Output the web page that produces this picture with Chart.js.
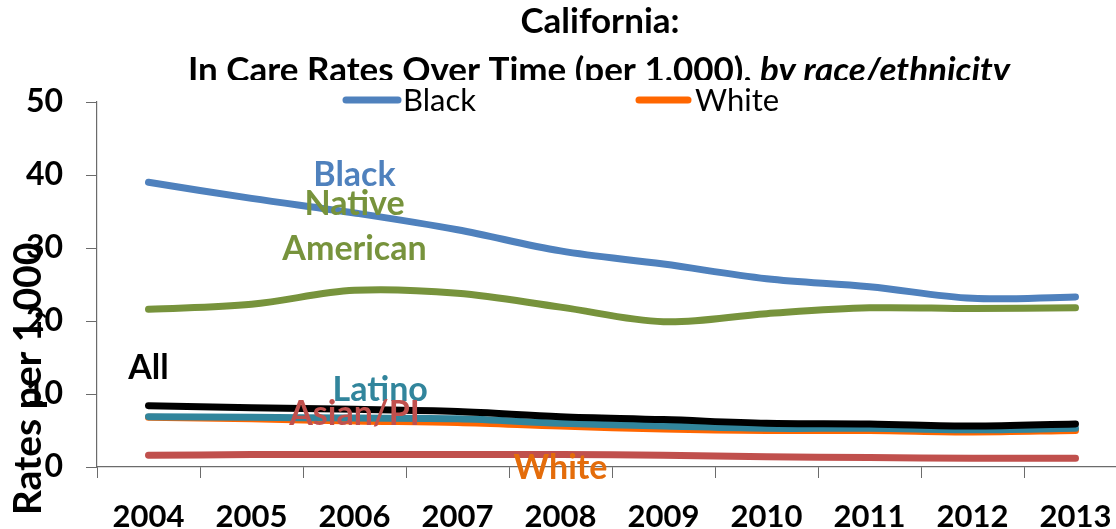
<!DOCTYPE html>
<html>
<head>
<meta charset="utf-8">
<script src="https://cdn.jsdelivr.net/npm/chart.js@4.4.1/dist/chart.umd.min.js"></script>
<style>
  html, body { margin: 0; padding: 0; background: #fff; overflow: hidden; }
  #wrap { position: relative; width: 1140px; height: 529px; }
</style>
</head>
<body>
<div id="wrap"><canvas id="myChart" width="1140" height="529"></canvas></div>
<script>
const years = ['2004', '2005', '2006', '2007', '2008', '2009', '2010', '2011', '2012', '2013']
const yTicks = [0, 10, 20, 30, 40, 50]

const black = [39.0, 36.8, 34.8, 32.5, 29.6, 27.8, 25.8, 24.7, 23.1, 23.3]
const nativeAmerican = [21.6, 22.3, 24.2, 23.8, 21.9, 19.9, 21.0, 21.8, 21.7, 21.8]
const all = [8.4, 8.1, 7.9, 7.6, 6.9, 6.5, 6.0, 5.9, 5.6, 5.9]
const latino = [6.9, 6.8, 6.7, 6.6, 6.0, 5.6, 5.3, 5.3, 5.1, 5.3]
const white = [6.8, 6.6, 6.3, 6.1, 5.6, 5.2, 5.0, 5.0, 4.8, 5.0]
const asianPI = [1.6, 1.7, 1.7, 1.7, 1.7, 1.6, 1.4, 1.3, 1.2, 1.2]

const FONT = 'Lato, "Open Sans", sans-serif'

// text labels written on the plot, anchored by category index / value
const tags = [
  { text: 'Black', color: '#4F81BD', i: 2, v: 40.0 },
  { text: 'Native', color: '#77933C', i: 2, v: 36.0 },
  { text: 'American', color: '#77933C', i: 2, v: 29.8 },
  { text: 'All', color: '#000000', i: 0, v: 13.5 },
  { text: 'Latino', color: '#31859C', i: 2.25, v: 10.5 },
  { text: 'Asian/PI', color: '#C0504D', i: 2, v: 7.2 },
  { text: 'White', color: '#E46C0A', i: 4, v: -0.2 }
]

const extras = {
  id: 'extras',
  afterDatasetsDraw (chart) {
    const ctx = chart.ctx
    const xs = chart.scales.x
    const ys = chart.scales.y
    const x0 = xs.getPixelForValue(0)
    const dx = xs.getPixelForValue(1) - x0
    ctx.save()
    ctx.font = 'bold 34px ' + FONT
    ctx.textAlign = 'center'
    ctx.textBaseline = 'middle'
    tags.forEach(t => {
      ctx.fillStyle = t.color
      ctx.fillText(t.text, x0 + t.i * dx, ys.getPixelForValue(t.v))
    })
    ctx.restore()
  },
  afterDraw (chart) {
    const ctx = chart.ctx
    ctx.save()
    // title
    ctx.fillStyle = '#000'
    ctx.textBaseline = 'alphabetic'
    ctx.textAlign = 'center'
    ctx.font = 'bold 35px ' + FONT
    ctx.fillText('California:', 600, 33)
    const a = 'In Care Rates Over Time (per 1,000), '
    const b = 'by race/ethnicity'
    const wa = ctx.measureText(a).width
    ctx.font = 'italic bold 35px ' + FONT
    const wb = ctx.measureText(b).width
    const sx = 599 - (wa + wb) / 2
    ctx.beginPath()
    ctx.rect(0, 40, chart.width, 40)
    ctx.clip()
    ctx.textAlign = 'left'
    ctx.font = 'bold 35px ' + FONT
    ctx.fillText(a, sx, 82)
    ctx.font = 'italic bold 35px ' + FONT
    ctx.fillText(b, sx + wa, 82)
    ctx.restore()

    // legend (only Black and White shown)
    ctx.save()
    ctx.lineCap = 'round'
    ctx.lineWidth = 7
    ctx.font = '31px ' + FONT
    ctx.textBaseline = 'middle'
    ctx.fillStyle = '#000'
    ;[['Black', 346, 398, 403], ['White', 639, 688, 695]].forEach(([name, l, r, tx]) => {
      const ds = chart.data.datasets.find(d => d.label === name)
      ctx.strokeStyle = ds.borderColor
      ctx.beginPath()
      ctx.moveTo(l, 100)
      ctx.lineTo(r, 100)
      ctx.stroke()
      ctx.fillText(name, tx, 101)
    })

    // y axis title
    ctx.translate(28, 379)
    ctx.rotate(-Math.PI / 2)
    ctx.textAlign = 'center'
    ctx.textBaseline = 'middle'
    ctx.font = 'bold 39px ' + FONT
    ctx.fillText('Rates per 1,000', 0, 0)
    ctx.restore()
  }
}

function line (label, data, color, order) {
  return {
    label,
    data,
    borderColor: color,
    backgroundColor: color,
    borderWidth: 7,
    borderCapStyle: 'round',
    pointRadius: 0,
    tension: 0.35,
    fill: false,
    order
  }
}

new Chart(document.getElementById('myChart'), {
  type: 'line',
  data: {
    labels: years,
    datasets: [
      line('Black', black, '#4F81BD', 6),
      line('Native American', nativeAmerican, '#77933C', 5),
      line('All', all, '#000000', 1),
      line('Latino', latino, '#31859C', 2),
      line('White', white, '#FF6600', 3),
      line('Asian/PI', asianPI, '#C0504D', 4)
    ]
  },
  options: {
    responsive: false,
    animation: false,
    devicePixelRatio: 1,
    layout: { padding: { top: 102, right: 13, left: 0, bottom: 0 } },
    plugins: {
      legend: { display: false },
      title: { display: false },
      tooltip: { enabled: false }
    },
    scales: {
      x: {
        offset: true,
        grid: {
          offset: true,
          drawOnChartArea: false,
          drawTicks: true,
          tickLength: 11,
          color: '#6b6b6b'
        },
        border: { color: '#6b6b6b', width: 1.2 },
        ticks: {
          color: '#000',
          font: { family: FONT, size: 31, weight: 'bold' },
          padding: 20,
          maxRotation: 0,
          autoSkip: false
        },
        afterFit (s) { s.height = 62 }
      },
      y: {
        min: 0,
        max: 50,
        afterBuildTicks (s) { s.ticks = yTicks.map(v => ({ value: v })) },
        grid: {
          drawOnChartArea: false,
          drawTicks: true,
          tickLength: 11,
          color: '#6b6b6b'
        },
        border: { color: '#6b6b6b', width: 1.2 },
        ticks: {
          color: '#000',
          font: { family: FONT, size: 32, weight: 'bold' },
          padding: 23
        },
        afterFit (s) { s.width = 97 }
      }
    }
  },
  plugins: [extras]
})
</script>
</body>
</html>
